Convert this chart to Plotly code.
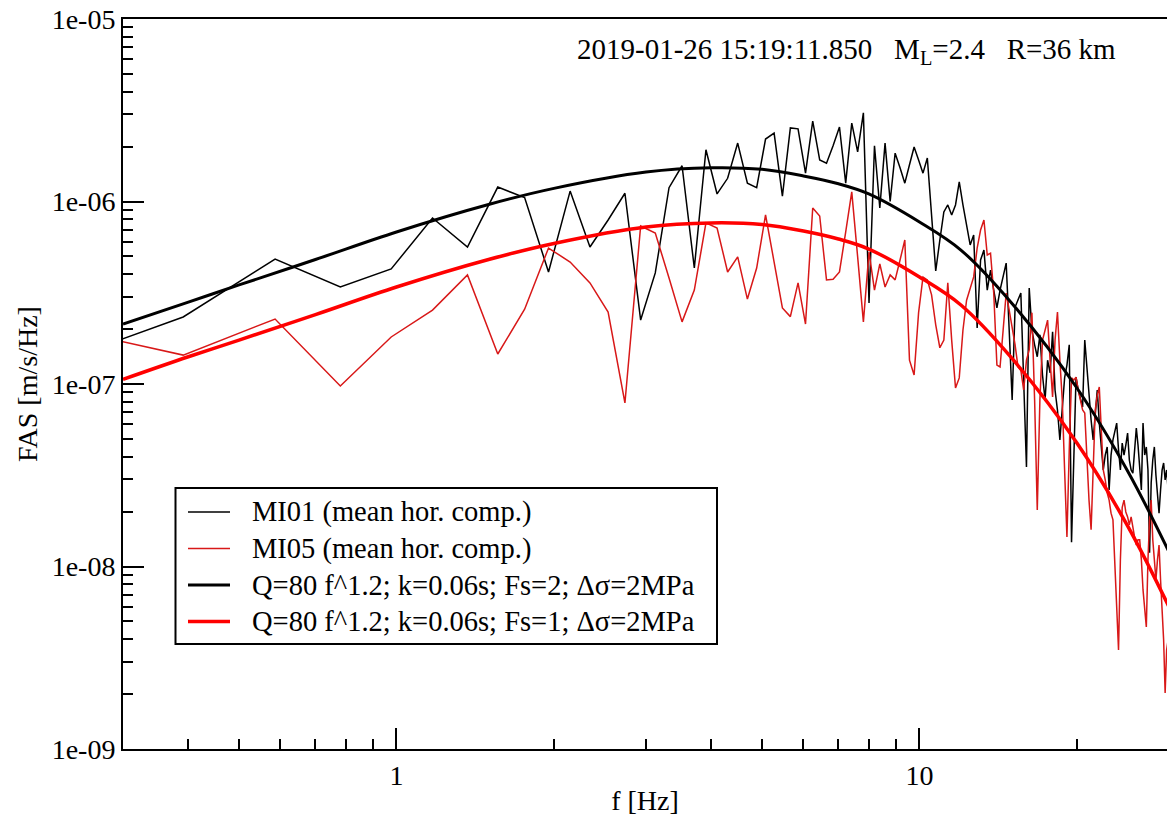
import plotly.graph_objects as go

# FFT frequency bins (Hz)
freq = [
    0.195, 0.391, 0.586, 0.781, 0.977, 1.172, 1.367, 1.562, 1.758, 1.953,
    2.148, 2.344, 2.539, 2.734, 2.930, 3.125, 3.320, 3.516, 3.711, 3.906,
    4.102, 4.297, 4.492, 4.688, 4.883, 5.078, 5.273, 5.469, 5.664, 5.859,
    6.055, 6.250, 6.445, 6.641, 6.836, 7.031, 7.227, 7.422, 7.617, 7.812,
    8.008, 8.203, 8.398, 8.594, 8.789, 8.984, 9.180, 9.375, 9.570, 9.766,
    9.961, 10.156, 10.352, 10.547, 10.742, 10.938, 11.133, 11.328, 11.523, 11.719,
    11.914, 12.109, 12.305, 12.500, 12.695, 12.891, 13.086, 13.281, 13.477, 13.672,
    13.867, 14.062, 14.258, 14.453, 14.648, 14.844, 15.039, 15.234, 15.430, 15.625,
    15.820, 16.016, 16.211, 16.406, 16.602, 16.797, 16.992, 17.188, 17.383, 17.578,
    17.773, 17.969, 18.164, 18.359, 18.555, 18.750, 18.945, 19.141, 19.336, 19.531,
    19.727, 19.922, 20.117, 20.312, 20.508, 20.703, 20.898, 21.094, 21.289, 21.484,
    21.680, 21.875, 22.070, 22.266, 22.461, 22.656, 22.852, 23.047, 23.242, 23.438,
    23.633, 23.828, 24.023, 24.219, 24.414, 24.609, 24.805, 25.000, 25.195, 25.391,
    25.586, 25.781, 25.977, 26.172, 26.367, 26.562, 26.758, 26.953, 27.148, 27.344,
    27.539, 27.734, 27.930, 28.125, 28.320, 28.516, 28.711, 28.906, 29.102, 29.297,
    29.492, 29.688, 29.883,
]

# MI01 mean horizontal component FAS [m/s/Hz]
mi01 = [
    1.13e-7, 2.33e-7, 4.84e-7, 3.40e-7, 4.27e-7, 8.12e-7, 5.63e-7, 1.20e-6, 1.05e-6, 4.11e-7,
    1.14e-6, 5.63e-7, 7.92e-7, 1.11e-6, 2.24e-7, 4.06e-7, 1.19e-6, 1.57e-6, 4.32e-7, 1.92e-6,
    1.10e-6, 1.34e-6, 2.09e-6, 1.26e-6, 1.19e-6, 2.20e-6, 2.37e-6, 1.07e-6, 2.53e-6, 2.50e-6,
    1.43e-6, 2.76e-6, 1.69e-6, 1.62e-6, 2.02e-6, 2.56e-6, 1.26e-6, 2.69e-6, 1.87e-6, 3.06e-6,
    2.78e-7, 2.02e-6, 9.21e-7, 2.09e-6, 1.00e-6, 1.84e-6, 1.53e-6, 1.26e-6, 1.59e-6, 1.99e-6,
    1.69e-6, 1.43e-6, 1.73e-6, 8.44e-7, 4.16e-7, 6.15e-7, 8.76e-7, 9.57e-7, 8.44e-7, 9.57e-7,
    1.28e-6, 9.57e-7, 7.44e-7, 5.78e-7, 6.55e-7, 2.03e-7, 4.78e-7, 5.42e-7, 3.27e-7, 4.21e-7,
    3.27e-7, 2.61e-7, 3.27e-7, 3.96e-7, 4.60e-7, 1.97e-7, 8.17e-8, 2.64e-7, 2.88e-7, 3.15e-7,
    1.05e-7, 3.51e-8, 3.36e-7, 1.97e-7, 1.64e-7, 1.41e-7, 1.86e-7, 1.12e-7, 8.17e-8, 1.35e-7,
    1.15e-7, 1.93e-7, 9.27e-8, 7.20e-8, 4.94e-8, 7.67e-8, 1.08e-7, 1.27e-7, 1.64e-7, 1.36e-8,
    3.83e-8, 1.09e-7, 9.27e-8, 8.17e-8, 7.48e-8, 1.74e-7, 1.19e-7, 9.27e-8, 6.35e-8, 4.94e-8,
    7.20e-8, 9.27e-8, 6.11e-8, 4.35e-8, 3.38e-8, 4.08e-8, 4.52e-8, 2.63e-8, 4.08e-8, 4.94e-8,
    5.59e-8, 6.11e-8, 4.35e-8, 3.38e-8, 4.75e-8, 4.08e-8, 4.63e-8, 5.39e-8, 3.83e-8, 3.38e-8,
    3.25e-8, 4.35e-8, 5.74e-8, 4.63e-8, 3.38e-8, 2.63e-8, 6.11e-8, 4.08e-8, 4.52e-8, 3.38e-8,
    1.19e-8, 2.87e-8, 3.83e-8, 4.52e-8, 3.17e-8, 2.31e-8, 1.96e-8, 2.63e-8, 3.38e-8, 3.69e-8,
    2.98e-8, 3.38e-8, 2.63e-8,
]

# MI05 mean horizontal component FAS [m/s/Hz]
mi05 = [
    2.24e-7, 1.44e-7, 2.27e-7, 9.75e-8, 1.81e-7, 2.54e-7, 3.96e-7, 1.46e-7, 2.57e-7, 5.56e-7,
    4.66e-7, 3.58e-7, 2.48e-7, 7.87e-8, 7.34e-7, 6.72e-7, 3.81e-7, 2.19e-7, 3.27e-7, 7.63e-7,
    7.16e-7, 4.11e-7, 4.97e-7, 2.92e-7, 4.32e-7, 8.44e-7, 4.66e-7, 2.61e-7, 2.34e-7, 3.58e-7,
    2.13e-7, 9.21e-7, 8.33e-7, 3.72e-7, 3.75e-7, 4.11e-7, 6.81e-7, 1.13e-6, 4.97e-7, 2.19e-7,
    5.29e-7, 3.27e-7, 4.55e-7, 3.40e-7, 3.96e-7, 3.72e-7, 4.78e-7, 6.15e-7, 1.35e-7, 1.12e-7,
    2.46e-7, 3.86e-7, 3.72e-7, 3.08e-7, 2.11e-7, 1.58e-7, 1.74e-7, 3.58e-7, 1.74e-7, 9.51e-8,
    1.08e-7, 1.97e-7, 2.88e-7, 3.36e-7, 3.86e-7, 5.56e-7, 6.98e-7, 7.92e-7, 5.09e-7, 5.21e-7,
    3.15e-7, 1.27e-7, 1.24e-7, 1.97e-7, 3.15e-7, 2.54e-7, 2.05e-7, 1.64e-7, 1.24e-7, 1.19e-7,
    9.27e-8, 1.35e-7, 1.54e-7, 2.46e-7, 8.17e-8, 2.04e-8, 8.17e-8, 1.74e-7, 1.97e-7, 2.24e-7,
    1.35e-7, 8.49e-8, 1.74e-7, 2.48e-7, 1.35e-7, 8.17e-8, 3.38e-8, 1.45e-8, 4.35e-8, 1.08e-7,
    1.05e-7, 1.09e-7, 9.27e-8, 8.17e-8, 7.20e-8, 6.94e-8, 3.83e-8, 2.31e-8, 1.59e-8, 3.38e-8,
    7.20e-8, 8.70e-8, 9.63e-8, 5.59e-8, 3.38e-8, 2.98e-8, 2.53e-8, 2.31e-8, 1.96e-8, 1.80e-8,
    1.09e-8, 6.55e-9, 3.49e-9, 1.09e-8, 2.11e-8, 2.31e-8, 1.99e-8, 1.87e-8, 1.69e-8, 1.87e-8,
    1.59e-8, 1.45e-8, 1.31e-8, 1.40e-8, 1.40e-8, 1.09e-8, 7.44e-9, 5.78e-9, 4.66e-9, 1.09e-8,
    1.80e-8, 2.31e-8, 1.40e-8, 1.09e-8, 8.44e-9, 1.09e-8, 1.31e-8, 8.44e-9, 5.56e-9, 3.96e-9,
    2.03e-9, 3.49e-9, 3.96e-9,
]

# Model spectra, read at selected frequencies
model_f = [0.3, 0.4, 0.5, 0.7, 1, 1.5, 2, 3, 4, 5, 6, 7, 8, 10, 12, 15, 20, 25, 30]
model_fs2 = [2.13e-7, 2.81e-7, 3.49e-7, 4.81e-7, 6.81e-7, 9.63e-7, 1.18e-6, 1.45e-6,
             1.53e-6, 1.50e-6, 1.38e-6, 1.25e-6, 1.10e-6, 7.72e-7, 5.42e-7, 2.78e-7,
             9.51e-8, 3.34e-8, 1.20e-8]
model_fs1 = [1.06e-7, 1.41e-7, 1.74e-7, 2.40e-7, 3.40e-7, 4.81e-7, 5.89e-7, 7.25e-7,
             7.63e-7, 7.48e-7, 6.89e-7, 6.23e-7, 5.49e-7, 3.86e-7, 2.71e-7, 1.39e-7,
             4.75e-8, 1.67e-8, 6.0e-9]

names = ["MI01 (mean hor. comp.)", "MI05 (mean hor. comp.)",
         "Q=80 f^1.2; k=0.06s; Fs=2; \u0394\u03c3=2MPa",
         "Q=80 f^1.2; k=0.06s; Fs=1; \u0394\u03c3=2MPa"]
colors = ["black", "#d81818", "black", "#ff0000"]
widths = [1.5, 1.5, 3, 3.5]

y_major = [1e-9, 1e-8, 1e-7, 1e-6, 1e-5]
y_major_text = ["1e-09", "1e-08", "1e-07", "1e-06", "1e-05"]
y_minor = [m * d for d in [1e-9, 1e-8, 1e-7, 1e-6] for m in range(2, 10)]
x_major = [1, 10]
x_major_text = ["1", "10"]
x_minor = [0.3, 0.4, 0.5, 0.6, 0.7, 0.8, 0.9, 2, 3, 4, 5, 6, 7, 8, 9, 20, 30]

FONT = "Liberation Serif, Times New Roman, serif"
FS = 28
W, H = 1167, 816
L, T, B, R = 123, 19, 67, 0
plot_w = W - L - R
plot_h = H - T - B
xr = [-0.5229, -0.5229 + plot_w / 523.0]


def px(xp):
    return (xp - L) / plot_w


def py(yp):
    return (H - B - yp) / plot_h


fig = go.Figure()
fig.add_trace(go.Scatter(x=freq, y=mi01, mode="lines", name=names[0],
                         line=dict(color=colors[0], width=widths[0])))
fig.add_trace(go.Scatter(x=freq, y=mi05, mode="lines", name=names[1],
                         line=dict(color=colors[1], width=widths[1])))
fig.add_trace(go.Scatter(x=model_f, y=model_fs2, mode="lines", name=names[2],
                         line=dict(color=colors[2], width=widths[2], shape="spline", smoothing=1)))
fig.add_trace(go.Scatter(x=model_f, y=model_fs1, mode="lines", name=names[3],
                         line=dict(color=colors[3], width=widths[3], shape="spline", smoothing=1)))

common_ticks = dict(ticks="inside", ticklen=21, tickwidth=2, tickcolor="black",
                    showgrid=False, zeroline=False)

fig.update_layout(
    width=W, height=H,
    margin=dict(l=L, r=R, t=T, b=B, pad=0),
    paper_bgcolor="white", plot_bgcolor="white",
    font=dict(family=FONT, size=FS, color="black"),
    showlegend=False,
    xaxis=dict(type="log", range=xr, showline=True, linecolor="black", linewidth=2,
               mirror=True, tickmode="array", tickvals=x_major, ticktext=x_major_text,
               minor=dict(tickmode="array", tickvals=x_minor, ticks="inside",
                          ticklen=10, tickwidth=2, tickcolor="black"),
               title=dict(text="f [Hz]", standoff=2, font=dict(size=FS)),
               **common_ticks),
    yaxis=dict(type="log", range=[-9, -5], showline=True, linecolor="black", linewidth=2,
               mirror=False, tickmode="array", tickvals=y_major, ticktext=y_major_text,
               minor=dict(tickmode="array", tickvals=y_minor, ticks="inside",
                          ticklen=10, tickwidth=2, tickcolor="black"),
               title=dict(text="FAS [m/s/Hz]", standoff=6, font=dict(size=FS)),
               **common_ticks),
    xaxis2=dict(type="log", range=xr, overlaying="x", side="top", anchor="y",
                showline=False, showticklabels=False,
                tickmode="array", tickvals=x_major,
                minor=dict(tickmode="array", tickvals=x_minor, ticks="inside",
                           ticklen=10, tickwidth=2, tickcolor="black"),
                **common_ticks),
    yaxis2=dict(type="log", range=[-9, -5], overlaying="y", side="right", anchor="x",
                showline=False, showticklabels=False,
                tickmode="array", tickvals=y_major,
                minor=dict(tickmode="array", tickvals=y_minor, ticks="inside",
                           ticklen=10, tickwidth=2, tickcolor="black"),
                **common_ticks),
)

# Legend box drawn by hand (xmgrace style)
fig.add_shape(type="rect", xref="paper", yref="paper",
              x0=px(175.5), x1=px(717), y0=py(644), y1=py(488),
              line=dict(color="black", width=2), fillcolor="white", layer="above")
row_y = [512, 548.5, 585, 621.5]
for i, name in enumerate(names):
    fig.add_shape(type="line", xref="paper", yref="paper",
                  x0=px(188), x1=px(230), y0=py(row_y[i]), y1=py(row_y[i]),
                  line=dict(color=colors[i], width=widths[i]), layer="above")
    fig.add_annotation(text=name, xref="paper", yref="paper",
                       x=px(250), y=py(row_y[i]), xanchor="left", yanchor="middle",
                       showarrow=False, font=dict(family=FONT, size=28.5, color="black"))

fig.add_annotation(
    text="2019-01-26 15:19:11.850\u00a0\u00a0\u00a0M<sub>L</sub>=2.4\u00a0\u00a0\u00a0R=36 km",
    xref="paper", yref="paper", x=px(575), y=py(31),
    xanchor="left", yanchor="top", showarrow=False,
    font=dict(family=FONT, size=29, color="black"),
)

fig.write_html("out.html")
